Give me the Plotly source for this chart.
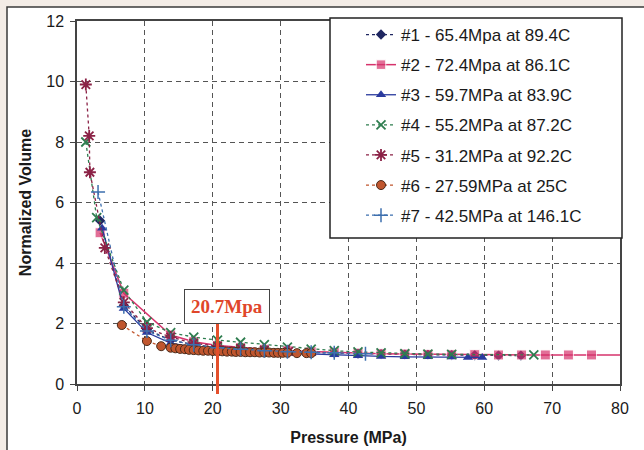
import plotly.graph_objects as go

# ---------------- data ----------------
names = [
    "#1 - 65.4Mpa at 89.4C",
    "#2 - 72.4Mpa at 86.1C",
    "#3 - 59.7MPa at 83.9C",
    "#4 - 55.2MPa at 87.2C",
    "#5 - 31.2MPa at 92.2C",
    "#6 - 27.59MPa at 25C",
    "#7 - 42.5MPa at 146.1C",
]

p1 = [3.4, 6.9, 10.3, 13.8, 17.2, 20.7, 24.1, 27.6, 31.0, 34.5, 37.9, 41.4, 44.8, 48.3, 51.7, 55.2, 58.6, 62.1, 65.4]
v1 = [5.4, 2.6, 1.8, 1.45, 1.3, 1.2, 1.15, 1.1, 1.07, 1.04, 1.02, 1.0, 0.99, 0.98, 0.97, 0.96, 0.95, 0.94, 0.94]

p2 = [3.4, 6.9, 13.8, 17.2, 20.7, 24.1, 27.6, 31.0, 34.5, 37.9, 41.4, 44.8, 48.3, 51.7, 55.2, 58.6, 62.1, 65.5, 69.0, 72.4, 75.8, 80.0]
v2 = [5.0, 3.0, 1.62, 1.4, 1.27, 1.2, 1.15, 1.1, 1.07, 1.05, 1.02, 1.0, 0.99, 0.98, 0.97, 0.97, 0.96, 0.96, 0.96, 0.96, 0.96, 0.96]

p3 = [3.7, 6.9, 10.3, 13.8, 17.2, 20.7, 24.1, 27.6, 31.0, 34.5, 37.9, 41.4, 44.8, 48.3, 51.7, 55.2, 57.6, 59.7]
v3 = [5.15, 2.5, 1.7, 1.35, 1.22, 1.15, 1.1, 1.05, 1.02, 1.0, 0.97, 0.93, 0.91, 0.9, 0.9, 0.89, 0.88, 0.88]

p4 = [1.3, 2.9, 6.9, 10.3, 13.8, 17.2, 20.7, 24.1, 27.6, 31.0, 34.5, 37.9, 41.4, 44.8, 48.3, 51.7, 55.2, 67.3]
v4 = [8.0, 5.5, 3.1, 2.05, 1.7, 1.55, 1.45, 1.38, 1.3, 1.22, 1.15, 1.1, 1.06, 1.03, 1.0, 0.99, 0.98, 0.96]

p5 = [1.3, 1.8, 1.9, 4.1, 6.9, 10.3, 13.8, 17.2, 20.7, 24.1, 27.6, 31.2]
v5 = [9.9, 8.2, 7.0, 4.5, 2.7, 1.85, 1.55, 1.35, 1.25, 1.18, 1.12, 1.08]

p6 = [6.6, 10.3, 12.4, 13.8, 14.5, 15.2, 15.9, 16.5, 17.2, 17.9, 18.6, 19.3, 20.0, 20.7, 21.4, 22.1,
      22.8, 23.4, 24.1, 24.8, 25.5, 26.2, 26.9, 27.6, 28.3, 29.0, 29.6, 30.3, 31.0, 32.4, 33.8, 34.5]
v6 = [1.95, 1.42, 1.25, 1.2, 1.18, 1.16, 1.15, 1.13, 1.12, 1.11, 1.1, 1.1, 1.09, 1.08, 1.08, 1.07,
      1.07, 1.06, 1.06, 1.05, 1.05, 1.05, 1.04, 1.04, 1.04, 1.03, 1.03, 1.03, 1.03, 1.02, 1.02, 1.02]

p7 = [3.1, 6.9, 10.3, 13.8, 17.2, 20.7, 24.1, 27.6, 31.0, 34.5, 37.9, 42.5]
v7 = [6.35, 2.55, 1.75, 1.45, 1.3, 1.2, 1.15, 1.1, 1.07, 1.05, 1.03, 1.0]

marker_p = 20.7
marker_label = "20.7Mpa"
x_ticks = [0, 10, 20, 30, 40, 50, 60, 70, 80]
y_ticks = [0, 2, 4, 6, 8, 10, 12]

# ---------------- styles ----------------
W, H = 644, 450
L, R, T, B = 77, 24, 21, 66
PW, PH = W - L - R, H - T - B


def px_x(p):
    return (p - L) / PW


def px_y(p):
    return (H - B - p) / PH


series = [
    (p1, v1, dict(color="#1f2660", symbol="diamond", size=8), dict(color="#1f2660", dash="dot", width=1.3)),
    (p2, v2, dict(color="#d6336c", symbol="square", size=10), dict(color="#d6336c", dash="solid", width=1.5)),
    (p3, v3, dict(color="#2a3a9e", symbol="triangle-up", size=9), dict(color="#2a3a9e", dash="solid", width=1.3)),
    (p4, v4, dict(color="#2e7d4f", symbol="x-thin-open", size=9, line=dict(width=1.8, color="#2e7d4f")), dict(color="#2e7d4f", dash="dot", width=1.3)),
    (p5, v5, dict(color="#8b2246", symbol="asterisk-open", size=10, line=dict(width=1.8, color="#8b2246")), dict(color="#8b2246", dash="dot", width=1.3)),
    (p6, v6, dict(color="#c0562e", symbol="circle", size=9, line=dict(width=1, color="#4a2a1a")), dict(color="#c0562e", dash="dot", width=1.3)),
    (p7, v7, dict(color="#3d6fae", symbol="cross-thin-open", size=10, line=dict(width=1.5, color="#3d6fae")), dict(color="#3d6fae", dash="dot", width=1.3)),
]

fig = go.Figure()
for i, (px_, vy, mk, ln) in enumerate(series):
    mk = dict(mk)
    if i == 1:
        mk["size"] = [mk["size"]] * (len(px_) - 1) + [0]
    fig.add_trace(go.Scatter(
        x=px_, y=vy, mode="lines+markers", name=names[i],
        marker=mk, line=ln, legendgroup=f"g{i}", cliponaxis=True,
    ))

tickfont = dict(family="Liberation Sans, Arial", size=16, color="#1a1a1a")
axis_common = dict(
    showline=True, linecolor="#444", linewidth=1.5, mirror=True,
    showgrid=True, gridcolor="#555", gridwidth=1.2, griddash="5px,4px",
    ticks="outside", ticklen=5, tickcolor="#444", tickwidth=1.2,
    tickfont=tickfont, zeroline=False, automargin=False,
)

fig.update_xaxes(range=[0, 80], tickvals=x_ticks, ticklabelstandoff=4,
                 title=dict(text="<b>Pressure (MPa)</b>", font=dict(family="Liberation Sans, Arial", size=16, color="#1a1a1a"), standoff=16),
                 **axis_common)
fig.update_yaxes(range=[0, 12], tickvals=y_ticks, ticklabelstandoff=3,
                 title=dict(text="<b>Normalized Volume</b>", font=dict(family="Liberation Sans, Arial", size=16, color="#1a1a1a"), standoff=11),
                 **axis_common)

shapes = [
    # white panel over the beige scan border
    dict(type="rect", xref="paper", yref="paper", layer="below",
         x0=px_x(7), x1=px_x(W + 10), y0=px_y(H + 10), y1=px_y(7),
         fillcolor="white", line=dict(color="#3a3a3a", width=1.5)),
    # legend frame
    dict(type="rect", xref="paper", yref="paper",
         x0=px_x(330), x1=px_x(622), y0=px_y(238), y1=px_y(18),
         fillcolor="white", line=dict(color="#222", width=1.5), layer="above"),
    # red marker line
    dict(type="line", xref="x", yref="paper", x0=marker_p, x1=marker_p,
         y0=px_y(394), y1=px_y(321), line=dict(color="#e4502c", width=3)),
]

fig.add_annotation(
    x=px_x(226.5), y=px_y(306), xref="paper", yref="paper",
    xanchor="center", yanchor="middle",
    text=f"<b>{marker_label}</b>", showarrow=False,
    font=dict(family="Liberation Serif, Times New Roman", size=19, color="#e0462a"),
    bgcolor="white", bordercolor="#444", borderwidth=1, borderpad=6,
)

fig.update_layout(
    width=W, height=H,
    margin=dict(l=L, r=R, t=T, b=B, autoexpand=False),
    paper_bgcolor="#f3ece6", plot_bgcolor="white",
    shapes=shapes,
    showlegend=True,
    legend=dict(
        x=px_x(361), y=px_y(17), xanchor="left", yanchor="top",
        bgcolor="rgba(0,0,0,0)", borderwidth=0,
        font=dict(family="Liberation Sans, Arial", size=17, color="#1a1a1a"),
        traceorder="grouped", tracegroupgap=5,
    ),
)

fig.write_html("out.html")
